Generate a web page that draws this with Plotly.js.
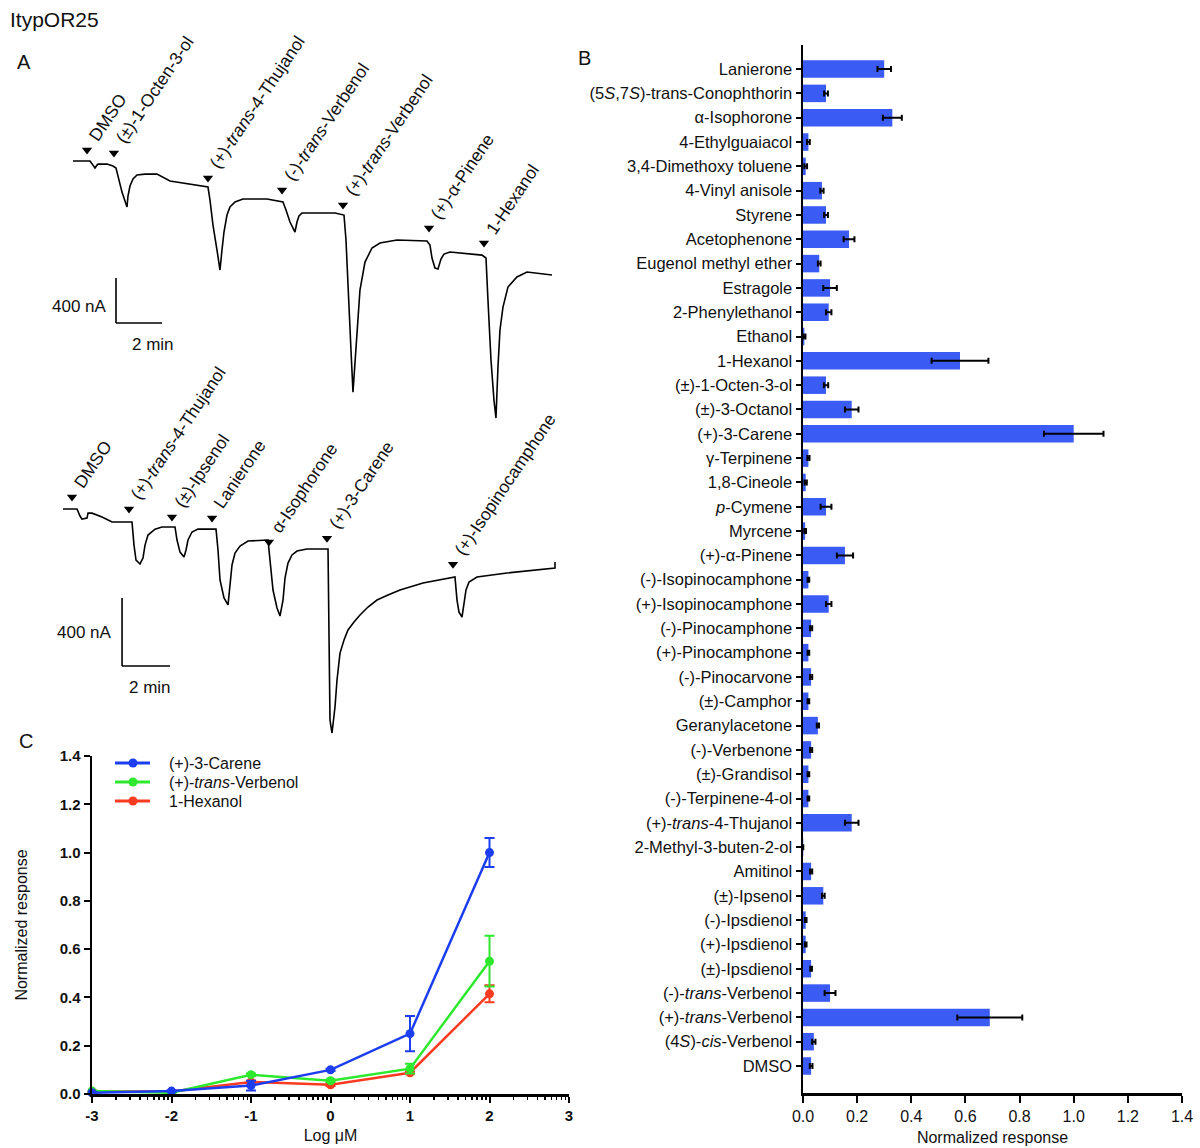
<!DOCTYPE html>
<html>
<head>
<meta charset="utf-8">
<script src="https://cdn.plot.ly/plotly-3.0.1.min.js"></script>
<style>html,body{margin:0;padding:0;background:#fff;}#chart{width:1200px;height:1148px;}</style>
</head>
<body>
<div id="chart"></div>
<script>
// ---------- Panel B data ----------
var compounds = [
  "Lanierone", "(5<i>S</i>,7<i>S</i>)-trans-Conophthorin", "α-Isophorone", "4-Ethylguaiacol",
  "3,4-Dimethoxy toluene", "4-Vinyl anisole", "Styrene", "Acetophenone", "Eugenol methyl ether",
  "Estragole", "2-Phenylethanol", "Ethanol", "1-Hexanol", "(±)-1-Octen-3-ol", "(±)-3-Octanol",
  "(+)-3-Carene", "γ-Terpinene", "1,8-Cineole", "<i>p</i>-Cymene", "Myrcene", "(+)-α-Pinene",
  "(-)-Isopinocamphone", "(+)-Isopinocamphone", "(-)-Pinocamphone", "(+)-Pinocamphone",
  "(-)-Pinocarvone", "(±)-Camphor", "Geranylacetone", "(-)-Verbenone", "(±)-Grandisol",
  "(-)-Terpinene-4-ol", "(+)-<i>trans</i>-4-Thujanol", "2-Methyl-3-buten-2-ol", "Amitinol",
  "(±)-Ipsenol", "(-)-Ipsdienol", "(+)-Ipsdienol", "(±)-Ipsdienol", "(-)-<i>trans</i>-Verbenol",
  "(+)-<i>trans</i>-Verbenol", "(4<i>S</i>)-<i>cis</i>-Verbenol", "DMSO"
];
var responses = [0.30, 0.085, 0.33, 0.02, 0.01, 0.07, 0.085, 0.17, 0.06, 0.10, 0.095, 0.005,
  0.58, 0.085, 0.18, 1.00, 0.02, 0.01, 0.085, 0.008, 0.155, 0.02, 0.095, 0.03, 0.02, 0.03,
  0.02, 0.055, 0.03, 0.02, 0.02, 0.18, 0.001, 0.03, 0.075, 0.01, 0.01, 0.03, 0.10, 0.69, 0.04, 0.03];
var responseSem = [0.025, 0.007, 0.035, 0.005, 0.005, 0.006, 0.007, 0.02, 0.005, 0.025, 0.01, 0.004,
  0.105, 0.008, 0.025, 0.11, 0.004, 0.004, 0.02, 0.003, 0.03, 0.003, 0.01, 0.004, 0.003, 0.004,
  0.003, 0.004, 0.004, 0.003, 0.003, 0.025, 0.0, 0.004, 0.005, 0.003, 0.003, 0.003, 0.02, 0.12, 0.006, 0.005];

// ---------- Panel C data ----------
var logConc = [-3, -2, -1, 0, 1, 2];
var careneResp = [0.005, 0.012, 0.035, 0.10, 0.25, 1.00];
var careneSem  = [0.003, 0.003, 0.02, 0.005, 0.073, 0.06];
var verbenolResp = [0.012, 0.005, 0.08, 0.055, 0.105, 0.55];
var verbenolSem  = [0.003, 0.003, 0.005, 0.005, 0.02, 0.105];
var hexanolResp = [0.01, 0.01, 0.05, 0.038, 0.088, 0.415];
var hexanolSem  = [0.003, 0.003, 0.005, 0.005, 0.005, 0.035];
var seriesNames = ["(+)-3-Carene", "(+)-<i>trans</i>-Verbenol", "1-Hexanol"];
var seriesColors = ["#1c3ef0", "#2ee82e", "#fb3a22"];
var doseTickLabels = ["-3", "-2", "-1", "0", "1", "2", "3"];

// ---------- Panel A data (time in min, current in nA) ----------
var topTime = [0, 0.739, 0.870, 0.957, 1.043, 1.087, 1.478, 1.739, 1.870, 2.0, 2.130, 2.261, 2.348,
  2.391, 2.478, 2.609, 2.783, 3.130, 3.652, 4.217, 5.217, 5.870, 5.957, 6.087, 6.261, 6.391, 6.478,
  6.565, 6.696, 6.826, 7.043, 7.391, 8.435, 9.130, 9.261, 9.435, 9.652, 9.739, 9.826, 9.957, 11.391,
  11.783, 11.870, 11.957, 12.087, 12.174, 12.348, 12.478, 12.696, 13.0, 13.348, 14.087, 15.391,
  15.522, 15.609, 15.739, 15.870, 16.0, 16.130, 16.391, 17.783, 17.957, 18.043, 18.174, 18.304,
  18.391, 18.478, 18.565, 18.696, 18.913, 19.304, 19.739, 20.826];
var topCurrent = [0, 0, -36, -62, -36, -27, -27, -44, -62, -169, -276, -356, -409,
  -311, -222, -160, -124, -116, -116, -178, -213, -231, -347, -569, -791, -969, -791,
  -631, -480, -409, -364, -338, -338, -364, -436, -542, -631, -542, -489, -462, -462,
  -480, -702, -1147, -1680, -2054, -1502, -1147, -898, -773, -729, -702, -711,
  -747, -862, -951, -960, -871, -827, -809, -836, -862, -1236, -1769, -2125,
  -2285, -1831, -1502, -1298, -1120, -1031, -987, -1013];
var topStimuli = ["DMSO", "(±)-1-Octen-3-ol", "(+)-<i>trans</i>-4-Thujanol", "(-)-<i>trans</i>-Verbenol",
  "(+)-<i>trans</i>-Verbenol", "(+)-α-Pinene", "1-Hexanol"];
var topStimTime = [0.61, 1.78, 5.87, 9.09, 11.74, 15.48, 17.87];
var topStimLevel = [98, 71, -151, -258, -391, -596, -729];

var botTime = [0, 0.583, 0.708, 0.792, 1.0, 1.042, 1.208, 1.625, 2.042, 2.875, 2.958, 3.042, 3.208,
  3.333, 3.417, 3.542, 3.833, 4.125, 4.667, 4.750, 4.875, 5.042, 5.125, 5.208, 5.375, 5.625, 6.375,
  6.458, 6.542, 6.708, 6.875, 6.958, 7.042, 7.167, 7.375, 7.708, 8.542, 8.625, 8.750, 8.917, 9.042,
  9.167, 9.250, 9.375, 9.542, 9.750, 10.167, 11.042, 11.125, 11.208, 11.333, 11.417, 11.542, 11.708,
  11.875, 12.125, 12.375, 12.708, 13.083, 13.542, 14.042, 15.0, 16.333, 16.417, 16.5, 16.625, 16.708,
  16.792, 16.917, 17.25, 18.5, 20.5, 20.5];
var botCurrent = [0, 0, -41, -59, -53, -24, -24, -47, -76, -76, -212, -300, -323,
  -288, -212, -153, -118, -106, -106, -182, -253, -282, -241, -182, -135, -118, -118,
  -241, -417, -523, -564, -435, -329, -259, -218, -188, -182, -300, -476, -582, -629,
  -535, -406, -318, -270, -247, -235, -235, -1241, -1317, -1164, -1005, -847, -770,
  -711, -664, -623, -576, -535, -506, -476, -435, -400, -535, -606, -635, -564,
  -476, -429, -400, -376, -347, -312];
var botStimuli = ["DMSO", "(+)-<i>trans</i>-4-Thujanol", "(±)-Ipsenol", "Lanierone", "α-Isophorone",
  "(+)-3-Carene", "(+)-Isopinocamphone"];
var botStimTime = [0.375, 2.75, 4.54, 6.21, 8.58, 11.0, 16.25];
var botStimLevel = [71, 0, -47, -53, -194, -171, -324];

// ---------- helpers ----------
var W = 1200, H = 1148;
function px(x) { return x / W; }
function py(y) { return 1 - y / H; }
var FONT = "Liberation Sans, Arial, Helvetica, sans-serif";
var TXT = "#111";
var barBlue = "#3b5bf5";

var traces = [];

// Panel B bars
traces.push({
  type: "bar", orientation: "h", x: responses, y: compounds, xaxis: "x", yaxis: "y",
  marker: {color: barBlue}, width: 0.72, showlegend: false, hoverinfo: "x+y",
  error_x: {type: "data", array: responseSem, visible: true, color: "#000", thickness: 2, width: 3}
});

// Panel C lines (drawn hexanol, verbenol, carene)
function dose(resp, sem, color) {
  return {
    type: "scatter", mode: "lines+markers", showlegend: false,
    x: logConc.map(function (v) { return Math.pow(10, v); }), y: resp,
    xaxis: "x2", yaxis: "y2", cliponaxis: false,
    line: {color: color, width: 2.5}, marker: {color: color, size: 9},
    error_y: {type: "data", array: sem, visible: true, color: color, thickness: 2, width: 5}
  };
}
traces.push(dose(hexanolResp, hexanolSem, seriesColors[2]));
traces.push(dose(verbenolResp, verbenolSem, seriesColors[1]));
traces.push(dose(careneResp, careneSem, seriesColors[0]));

// Panel A traces
traces.push({type: "scatter", mode: "lines", x: topTime, y: topCurrent, xaxis: "x3", yaxis: "y3",
  line: {color: "#000", width: 1.6}, showlegend: false, hoverinfo: "skip"});
traces.push({type: "scatter", mode: "markers", x: topStimTime, y: topStimLevel, xaxis: "x3", yaxis: "y3",
  marker: {symbol: "triangle-down", size: 9, color: "#000"}, showlegend: false, hoverinfo: "skip", cliponaxis: false});
traces.push({type: "scatter", mode: "lines", x: botTime, y: botCurrent, xaxis: "x4", yaxis: "y4",
  line: {color: "#000", width: 1.6}, showlegend: false, hoverinfo: "skip"});
traces.push({type: "scatter", mode: "markers", x: botStimTime, y: botStimLevel, xaxis: "x4", yaxis: "y4",
  marker: {symbol: "triangle-down", size: 9, color: "#000"}, showlegend: false, hoverinfo: "skip", cliponaxis: false});

// ---------- annotations ----------
var annotations = [];
function txt(text, x, y, size, opts) {
  var a = {text: text, x: x, y: y, xref: "paper", yref: "paper", showarrow: false,
    font: {family: FONT, size: size, color: TXT}, xanchor: "left", yanchor: "middle"};
  for (var k in (opts || {})) a[k] = opts[k];
  annotations.push(a);
}
txt("ItypOR25", px(8), py(20), 21);
txt("A", px(15), py(62), 20);
txt("B", px(576), py(58), 20);
txt("C", px(17), py(741), 20);

function stimLabels(names, times, levels, xr, yr) {
  for (var i = 0; i < names.length; i++) {
    annotations.push({text: names[i], x: times[i], y: levels[i], xref: xr, yref: yr,
      showarrow: false, textangle: -56, xanchor: "left", yanchor: "bottom",
      xshift: -5, yshift: 3, font: {family: FONT, size: 17.5, color: TXT}});
  }
}
stimLabels(topStimuli, topStimTime, topStimLevel, "x3", "y3");
stimLabels(botStimuli, botStimTime, botStimLevel, "x4", "y4");

// scale bar labels
annotations.push({text: "400 nA", x: 1.87, y: -1289, xref: "x3", yref: "y3", showarrow: false,
  xanchor: "right", xshift: -7, font: {family: FONT, size: 17, color: TXT}});
annotations.push({text: "2 min", x: 3.48, y: -1627, xref: "x3", yref: "y3", showarrow: false,
  font: {family: FONT, size: 17, color: TXT}});
annotations.push({text: "400 nA", x: 2.46, y: -723, xref: "x4", yref: "y4", showarrow: false,
  xanchor: "right", xshift: -8, font: {family: FONT, size: 17, color: TXT}});
annotations.push({text: "2 min", x: 3.625, y: -1047, xref: "x4", yref: "y4", showarrow: false,
  font: {family: FONT, size: 17, color: TXT}});

var shapes = [
  {type: "line", xref: "x3", yref: "y3", x0: 1.87, x1: 1.87, y0: -1040, y1: -1440, line: {color: "#000", width: 1.6}},
  {type: "line", xref: "x3", yref: "y3", x0: 1.87, x1: 3.87, y0: -1440, y1: -1440, line: {color: "#000", width: 1.6}},
  {type: "line", xref: "x4", yref: "y4", x0: 2.46, x1: 2.46, y0: -523, y1: -923, line: {color: "#000", width: 1.6}},
  {type: "line", xref: "x4", yref: "y4", x0: 2.46, x1: 4.46, y0: -923, y1: -923, line: {color: "#000", width: 1.6}}
];

// manual legend for panel C
for (var i = 0; i < seriesNames.length; i++) {
  var ly = 763 + i * 19;
  shapes.push({type: "line", xref: "paper", yref: "paper", x0: px(115), x1: px(150), y0: py(ly), y1: py(ly),
    line: {color: seriesColors[i], width: 3}});
  shapes.push({type: "circle", xref: "paper", yref: "paper", x0: px(128.5), x1: px(137.5),
    y0: py(ly + 4.5), y1: py(ly - 4.5), fillcolor: seriesColors[i], line: {width: 0}});
  txt(seriesNames[i], px(167), py(ly), 16);
}

var hidden = {visible: false, fixedrange: true};

var layout = {
  width: W, height: H,
  margin: {l: 0, r: 0, t: 0, b: 0, pad: 0},
  paper_bgcolor: "#fff", plot_bgcolor: "rgba(0,0,0,0)",
  font: {family: FONT, size: 15, color: TXT},
  showlegend: false,
  // Panel B
  xaxis: {domain: [px(803), px(1182)], anchor: "y", range: [0, 1.4], dtick: 0.2, tickformat: ".1f",
    showgrid: false, zeroline: false, showline: true, linecolor: "#000", linewidth: 2.5,
    ticks: "outside", ticklen: 7, tickwidth: 2, tickcolor: "#000",
    tickfont: {family: FONT, size: 16, color: TXT},
    title: {text: "Normalized response", font: {family: FONT, size: 16, color: TXT}, standoff: 8}},
  yaxis: {domain: [py(1093), py(45)], anchor: "x", type: "category", categoryorder: "array",
    categoryarray: compounds, range: [42.11, -0.99], showgrid: false, zeroline: false,
    showline: true, linecolor: "#000", linewidth: 2.5, ticks: "outside", ticklen: 5, tickwidth: 2,
    tickcolor: "#000", tickfont: {family: FONT, size: 16.5, color: TXT}},
  // Panel C
  xaxis2: {domain: [px(92), px(569)], anchor: "y2", type: "log", range: [-3, 3],
    tickmode: "array", tickvals: [0.001, 0.01, 0.1, 1, 10, 100, 1000], ticktext: doseTickLabels,
    showgrid: false, zeroline: false, showline: true, linecolor: "#000", linewidth: 2.5,
    ticks: "outside", ticklen: 6, tickwidth: 2, tickcolor: "#000",
    minor: {ticks: "outside", ticklen: 3, tickwidth: 1.5, tickcolor: "#000", dtick: "D1", showgrid: false},
    tickfont: {family: FONT, size: 15, color: TXT, weight: "bold"},
    title: {text: "Log μM", font: {family: FONT, size: 16, color: TXT}, standoff: 8}},
  yaxis2: {domain: [py(1094), py(756)], anchor: "x2", range: [0, 1.4], dtick: 0.2, tickformat: ".1f",
    showgrid: false, zeroline: false, showline: true, linecolor: "#000", linewidth: 2.5,
    ticks: "outside", ticklen: 6, tickwidth: 2, tickcolor: "#000",
    tickfont: {family: FONT, size: 15, color: TXT, weight: "bold"},
    title: {text: "Normalized response", font: {family: FONT, size: 16, color: TXT}, standoff: 28}},
  // Panel A
  xaxis3: Object.assign({domain: [px(60), px(570)], anchor: "y3", range: [-0.565, 21.61]}, hidden),
  yaxis3: Object.assign({domain: [py(430), py(30)], anchor: "x3", range: [-2391, 1165]}, hidden),
  xaxis4: Object.assign({domain: [px(50), px(570)], anchor: "y4", range: [-0.542, 21.125]}, hidden),
  yaxis4: Object.assign({domain: [py(740), py(440)], anchor: "x4", range: [-1358, 406]}, hidden),
  annotations: annotations,
  shapes: shapes
};

Plotly.newPlot("chart", traces, layout, {displayModeBar: false, staticPlot: true});
</script>
</body>
</html>
